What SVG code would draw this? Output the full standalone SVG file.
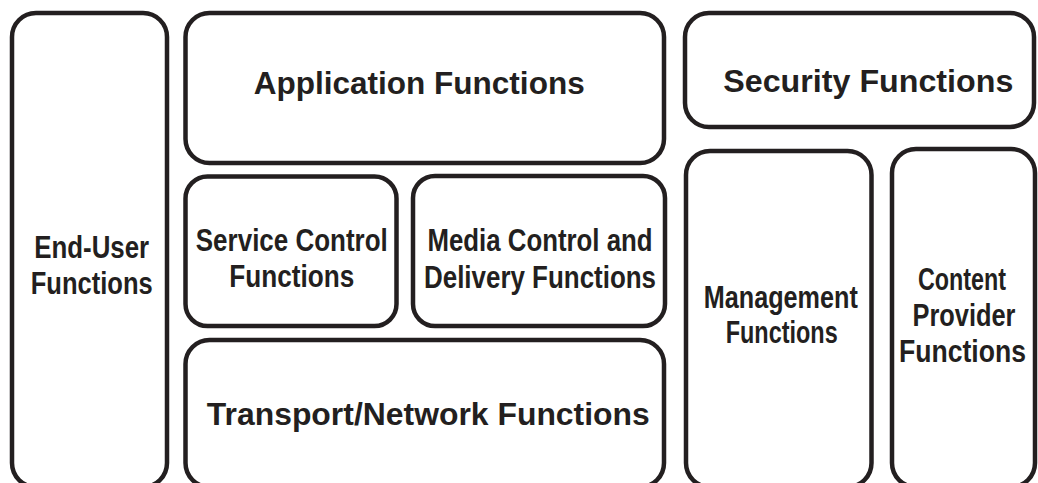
<svg xmlns="http://www.w3.org/2000/svg" width="1038" height="483" viewBox="0 0 1038 483">
<style>
.box{fill:#ffffff;stroke:#231f20;stroke-width:4.5}
.t{font-family:"Liberation Sans",Arial,sans-serif;font-weight:bold;fill:#231f20;text-anchor:middle}
.big{font-size:31px}
.mid{font-size:31px}
</style>
<rect width="1038" height="483" fill="#ffffff"/>
<g id="end-user">
<rect class="box" x="12" y="13" width="155" height="474" rx="24"/>
<text class="t mid" x="91.7" y="257.5" textLength="115" lengthAdjust="spacingAndGlyphs">End-User</text>
<text class="t mid" x="91.7" y="294" textLength="122" lengthAdjust="spacingAndGlyphs">Functions</text>
</g>
<g id="application">
<rect class="box" x="185.5" y="13" width="478.5" height="150" rx="24"/>
<text class="t big" x="419.2" y="94" textLength="331" lengthAdjust="spacingAndGlyphs">Application Functions</text>
</g>
<g id="service-control">
<rect class="box" x="185.5" y="176.5" width="211" height="149.5" rx="22"/>
<text class="t mid" x="291.8" y="251" textLength="192" lengthAdjust="spacingAndGlyphs">Service Control</text>
<text class="t mid" x="291.7" y="287" textLength="125" lengthAdjust="spacingAndGlyphs">Functions</text>
</g>
<g id="media-control">
<rect class="box" x="413" y="176" width="252" height="150" rx="22"/>
<text class="t mid" x="540" y="251" textLength="225" lengthAdjust="spacingAndGlyphs">Media Control and</text>
<text class="t mid" x="540" y="287.5" textLength="232" lengthAdjust="spacingAndGlyphs">Delivery Functions</text>
</g>
<g id="transport">
<rect class="box" x="185.5" y="340" width="478.5" height="147" rx="24"/>
<text class="t big" x="428.3" y="425" textLength="443" lengthAdjust="spacingAndGlyphs">Transport/Network Functions</text>
</g>
<g id="security">
<rect class="box" x="685" y="13" width="349" height="114" rx="24"/>
<text class="t big" x="868.3" y="92" textLength="290" lengthAdjust="spacingAndGlyphs">Security Functions</text>
</g>
<g id="management">
<rect class="box" x="686" y="151" width="185.5" height="336" rx="24"/>
<text class="t mid" x="780.8" y="307.5" textLength="154" lengthAdjust="spacingAndGlyphs">Management</text>
<text class="t mid" x="781.7" y="343" textLength="112" lengthAdjust="spacingAndGlyphs">Functions</text>
</g>
<g id="content-provider">
<rect class="box" x="892" y="149" width="143" height="338" rx="24"/>
<text class="t mid" x="962" y="290" textLength="88" lengthAdjust="spacingAndGlyphs">Content</text>
<text class="t mid" x="964" y="326" textLength="103" lengthAdjust="spacingAndGlyphs">Provider</text>
<text class="t mid" x="962.5" y="362" textLength="127" lengthAdjust="spacingAndGlyphs">Functions</text>
</g>
<g id="connectors"></g>
</svg>
